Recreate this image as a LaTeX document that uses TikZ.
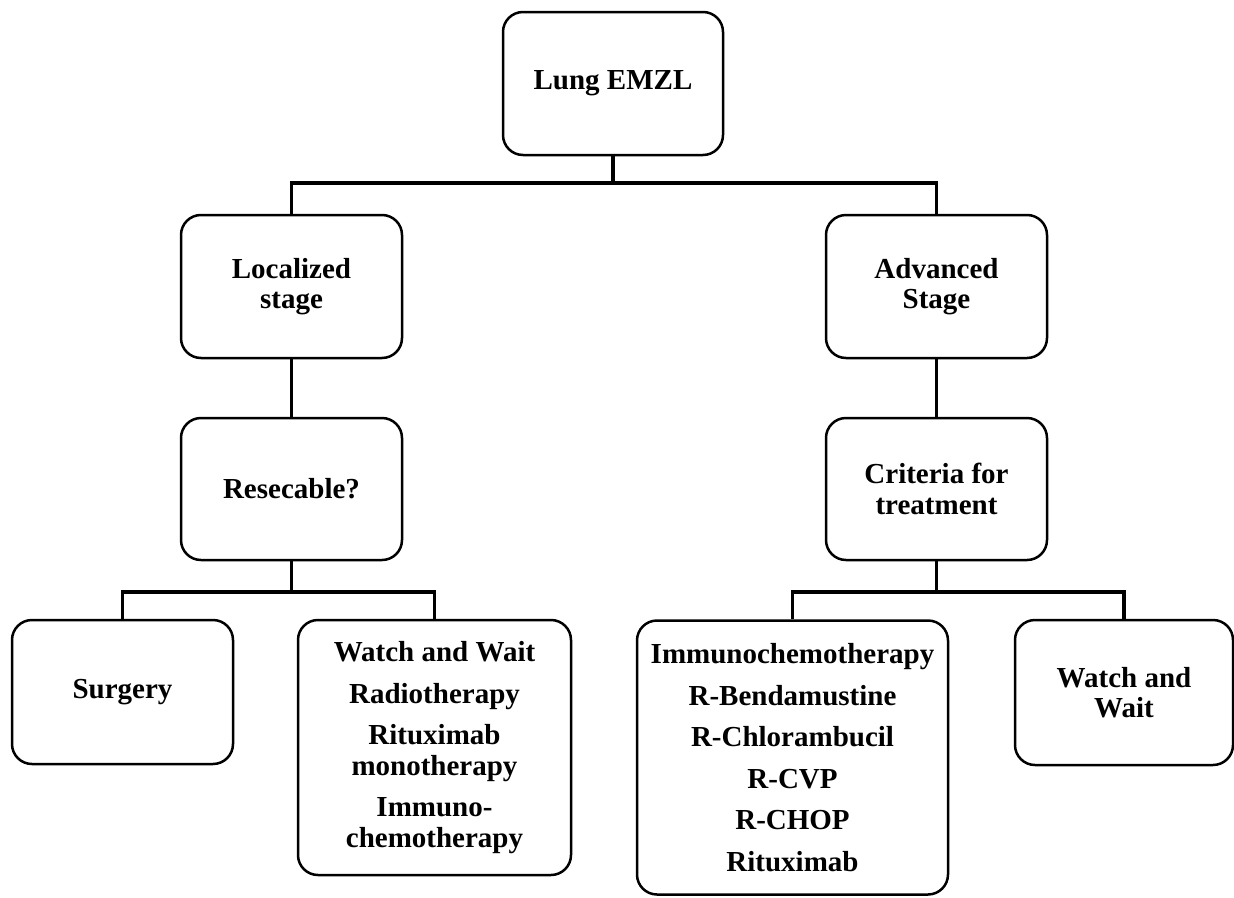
\documentclass[tikz,border=0pt]{standalone}
\usepackage{fontspec}
\setmainfont{Liberation Serif}
\begin{document}
\begin{tikzpicture}[x=1pt,y=-1pt,
  box/.style={draw=black, line width=2.5pt, rounded corners=20pt, align=center,
    font=\fontsize{29}{30.5}\selectfont\bfseries, inner sep=4pt},
  conn/.style={draw=black, line width=3.5pt}]
\useasboundingbox (0,0) rectangle (1234,897);
\node[box, minimum width=220pt, minimum height=143pt] (root) at (613,83.5) {Lung EMZL};
\node[box, minimum width=221pt, minimum height=143pt] (loc) at (291.5,286.5) {Localized\\stage};
\node[box, minimum width=221pt, minimum height=143pt] (adv) at (936.5,286.5) {Advanced\\Stage};
\node[box, minimum width=221pt, minimum height=142pt] (res) at (291.5,489) {Resecable?};
\node[box, minimum width=221pt, minimum height=142pt] (crit) at (936.5,489) {Criteria for\\treatment};
\node[box, minimum width=221pt, minimum height=144pt] (surg) at (122.5,692) {Surgery};
\node[box, minimum width=273pt, minimum height=255pt] (ww1) at (434.5,747.5)
  {Watch and Wait\\[11pt]Radiotherapy\\[11pt]Rituximab\\monotherapy\\[11pt]Immuno-\\chemotherapy};
\node[box, minimum width=311pt, minimum height=274pt] (imm) at (792.5,757.5)
  {Immunochemotherapy\\[11pt]R-Bendamustine\\[11pt]R-Chlorambucil\\[11pt]R-CVP\\[11pt]R-CHOP\\[11pt]Rituximab};
\node[box, minimum width=218pt, minimum height=145pt] (ww2) at (1124,692.5) {Watch and\\Wait};
\coordinate (b1) at (613,183);
\coordinate (b2) at (291.5,592);
\coordinate (b3) at (936.5,592);
\draw[conn] (root.south) -- (b1);
\draw[conn] (loc.north) -- (loc.north |- b1) -- (adv.north |- b1) -- (adv.north);
\draw[conn] (loc.south) -- (res.north);
\draw[conn] (adv.south) -- (crit.north);
\draw[conn] (res.south) -- (b2);
\draw[conn] (surg.north) -- (surg.north |- b2) -- (ww1.north |- b2) -- (ww1.north);
\draw[conn] (crit.south) -- (b3);
\draw[conn] (imm.north) -- (imm.north |- b3) -- (ww2.north |- b3) -- (ww2.north);
\end{tikzpicture}
\end{document}
